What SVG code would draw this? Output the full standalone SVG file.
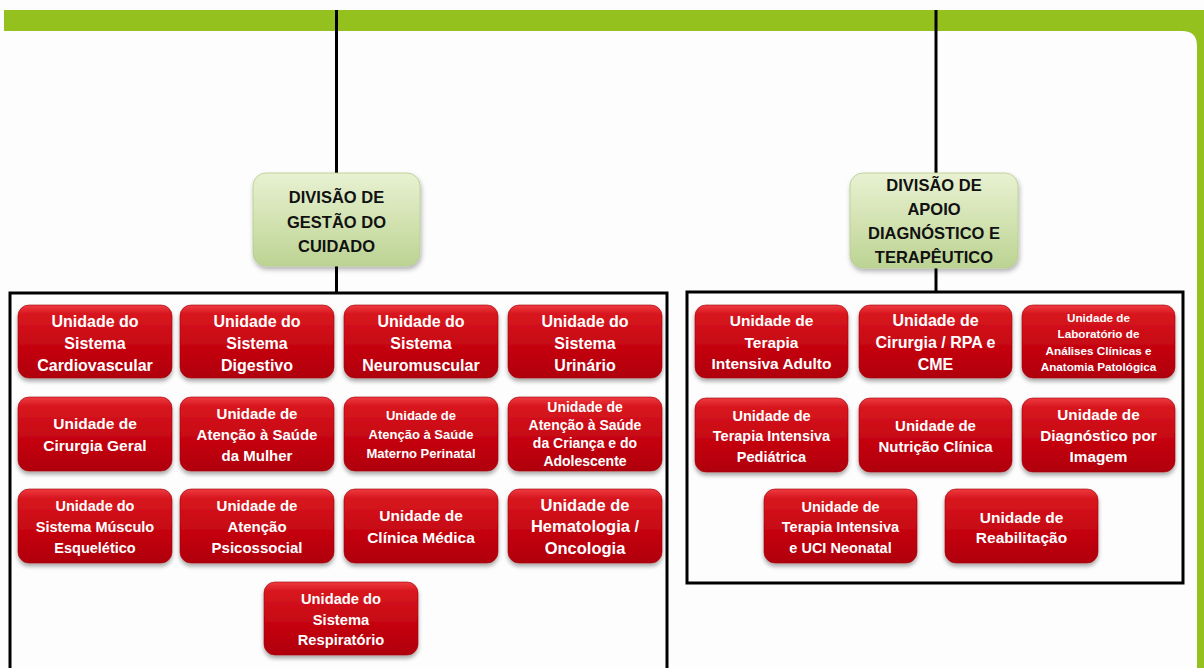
<svg xmlns="http://www.w3.org/2000/svg" width="1204" height="668" viewBox="0 0 1204 668">
<defs>
<linearGradient id="red" x1="0" y1="0" x2="0" y2="1">
<stop offset="0" stop-color="#EE3A40"/>
<stop offset="0.12" stop-color="#D81820"/>
<stop offset="0.6" stop-color="#C40410"/>
<stop offset="1" stop-color="#B00008"/>
</linearGradient>
<linearGradient id="green" x1="0" y1="0" x2="0" y2="1">
<stop offset="0" stop-color="#E8F1D2"/>
<stop offset="0.5" stop-color="#D3E3B2"/>
<stop offset="1" stop-color="#BCD393"/>
</linearGradient>
<filter id="sh" x="-10%" y="-10%" width="120%" height="130%">
<feDropShadow dx="0" dy="3" stdDeviation="2" flood-color="#000" flood-opacity="0.35"/>
</filter>
<filter id="gsh" x="-10%" y="-10%" width="120%" height="130%">
<feDropShadow dx="1" dy="3" stdDeviation="2.5" flood-color="#000" flood-opacity="0.3"/>
</filter>
</defs>
<style>
.u rect{fill:url(#red);filter:url(#sh);stroke:#A00008;stroke-width:0.6}
.u text{fill:#fff;font-family:"Liberation Sans",Arial,sans-serif;font-weight:bold;text-anchor:middle}
.d rect{fill:url(#green);filter:url(#gsh);stroke:#B5CB8C;stroke-width:0.8}
.d text{fill:#111;font-family:"Liberation Sans",Arial,sans-serif;font-weight:bold;font-size:16.5px;text-anchor:middle}
.frame{fill:none;stroke:#000;stroke-width:3}
.ln{stroke:#000;stroke-width:3;fill:none}
</style>
<rect width="1204" height="668" fill="#FDFDFD"/>
<path d="M4 10 H1204 V668 H1197 V46 Q1197 31 1182 31 H4 Z" fill="#95C11F"/>
<g id="connectors">
<line class="ln" x1="336.5" y1="10" x2="336.5" y2="173"/>
<line class="ln" x1="336.5" y1="266" x2="336.5" y2="293"/>
<line class="ln" x1="936" y1="10" x2="936" y2="173"/>
<line class="ln" x1="936" y1="268" x2="936" y2="292"/>
</g>
<rect class="frame" x="10" y="293" width="657" height="390"/>
<rect class="frame" x="687" y="292" width="496" height="291"/>

<g id="div-gestao" class="d">
<rect x="253" y="173" width="167" height="93" rx="13"/>
<text x="336.5" y="203">DIVISÃO DE</text>
<text x="336.5" y="227.5">GESTÃO DO</text>
<text x="336.5" y="252">CUIDADO</text>
</g>
<g id="div-apoio" class="d">
<rect x="850" y="173" width="168" height="95" rx="13"/>
<text x="934" y="191">DIVISÃO DE</text>
<text x="934" y="215">APOIO</text>
<text x="934" y="239">DIAGNÓSTICO E</text>
<text x="934" y="263">TERAPÊUTICO</text>
</g>

<g id="u-cardio" class="u">
<rect x="18" y="305" width="154" height="73" rx="11"/>
<text font-size="16"><tspan x="95" y="326.5">Unidade do</tspan><tspan x="95" y="348.5">Sistema</tspan><tspan x="95" y="370.5">Cardiovascular</tspan></text>
</g>
<g id="u-digestivo" class="u">
<rect x="180" y="305" width="154" height="73" rx="11"/>
<text font-size="16"><tspan x="257" y="326.5">Unidade do</tspan><tspan x="257" y="348.5">Sistema</tspan><tspan x="257" y="370.5">Digestivo</tspan></text>
</g>
<g id="u-neuro" class="u">
<rect x="344" y="305" width="154" height="73" rx="11"/>
<text font-size="16"><tspan x="421" y="326.5">Unidade do</tspan><tspan x="421" y="348.5">Sistema</tspan><tspan x="421" y="370.5">Neuromuscular</tspan></text>
</g>
<g id="u-urinario" class="u">
<rect x="508" y="305" width="154" height="73" rx="11"/>
<text font-size="16"><tspan x="585" y="326.5">Unidade do</tspan><tspan x="585" y="348.5">Sistema</tspan><tspan x="585" y="370.5">Urinário</tspan></text>
</g>

<g id="u-cirurgia" class="u">
<rect x="18" y="397" width="154" height="74" rx="11"/>
<text font-size="15.5"><tspan x="95" y="429">Unidade de</tspan><tspan x="95" y="451">Cirurgia Geral</tspan></text>
</g>
<g id="u-mulher" class="u">
<rect x="180" y="397" width="154" height="74" rx="11"/>
<text font-size="15"><tspan x="257" y="418.5">Unidade de</tspan><tspan x="257" y="439.5">Atenção à Saúde</tspan><tspan x="257" y="460.5">da Mulher</tspan></text>
</g>
<g id="u-materno" class="u">
<rect x="344" y="397" width="154" height="74" rx="11"/>
<text font-size="13"><tspan x="421" y="420">Unidade de</tspan><tspan x="421" y="439">Atenção à Saúde</tspan><tspan x="421" y="458">Materno Perinatal</tspan></text>
</g>
<g id="u-crianca" class="u">
<rect x="508" y="397" width="154" height="74" rx="11"/>
<text font-size="14"><tspan x="585" y="412">Unidade de</tspan><tspan x="585" y="430">Atenção à Saúde</tspan><tspan x="585" y="448">da Criança e do</tspan><tspan x="585" y="466">Adolescente</tspan></text>
</g>

<g id="u-musculo" class="u">
<rect x="18" y="489" width="154" height="74" rx="11"/>
<text font-size="14.5"><tspan x="95" y="510.5">Unidade do</tspan><tspan x="95" y="531.5">Sistema Músculo</tspan><tspan x="95" y="552.5">Esquelético</tspan></text>
</g>
<g id="u-psico" class="u">
<rect x="180" y="489" width="154" height="74" rx="11"/>
<text font-size="15"><tspan x="257" y="510.5">Unidade de</tspan><tspan x="257" y="531.5">Atenção</tspan><tspan x="257" y="552.5">Psicossocial</tspan></text>
</g>
<g id="u-clinica" class="u">
<rect x="344" y="489" width="154" height="74" rx="11"/>
<text font-size="15.5"><tspan x="421" y="521">Unidade de</tspan><tspan x="421" y="543">Clínica Médica</tspan></text>
</g>
<g id="u-hemato" class="u">
<rect x="508" y="489" width="154" height="74" rx="11"/>
<text font-size="16.5"><tspan x="585" y="510.5">Unidade de</tspan><tspan x="585" y="532">Hematologia /</tspan><tspan x="585" y="553.5">Oncologia</tspan></text>
</g>
<g id="u-resp" class="u">
<rect x="264" y="582" width="154" height="73" rx="11"/>
<text font-size="14.7"><tspan x="341" y="604">Unidade do</tspan><tspan x="341" y="624.5">Sistema</tspan><tspan x="341" y="645">Respiratório</tspan></text>
</g>

<g id="u-uti-adulto" class="u">
<rect x="695" y="305" width="153" height="73" rx="11"/>
<text font-size="15.5"><tspan x="771.5" y="326">Unidade de</tspan><tspan x="771.5" y="347.5">Terapia</tspan><tspan x="771.5" y="369">Intensiva Adulto</tspan></text>
</g>
<g id="u-rpa" class="u">
<rect x="859" y="305" width="153" height="73" rx="11"/>
<text font-size="16"><tspan x="935.5" y="326">Unidade de</tspan><tspan x="935.5" y="348">Cirurgia / RPA e</tspan><tspan x="935.5" y="370">CME</tspan></text>
</g>
<g id="u-lab" class="u">
<rect x="1022" y="305" width="153" height="73" rx="11"/>
<text font-size="11.7"><tspan x="1098.5" y="321.5">Unidade de</tspan><tspan x="1098.5" y="338">Laboratório de</tspan><tspan x="1098.5" y="354.5">Análises Clínicas e</tspan><tspan x="1098.5" y="371">Anatomia Patológica</tspan></text>
</g>

<g id="u-uti-ped" class="u">
<rect x="695" y="398" width="153" height="74" rx="11"/>
<text font-size="14.5"><tspan x="771.5" y="420.5">Unidade de</tspan><tspan x="771.5" y="441">Terapia Intensiva</tspan><tspan x="771.5" y="461.5">Pediátrica</tspan></text>
</g>
<g id="u-nutricao" class="u">
<rect x="859" y="398" width="153" height="74" rx="11"/>
<text font-size="15"><tspan x="935.5" y="430.5">Unidade de</tspan><tspan x="935.5" y="451.5">Nutrição Clínica</tspan></text>
</g>
<g id="u-imagem" class="u">
<rect x="1022" y="398" width="153" height="74" rx="11"/>
<text font-size="15.3"><tspan x="1098.5" y="419.5">Unidade de</tspan><tspan x="1098.5" y="440.5">Diagnóstico por</tspan><tspan x="1098.5" y="461.5">Imagem</tspan></text>
</g>

<g id="u-uci-neo" class="u">
<rect x="764" y="489" width="153" height="74" rx="11"/>
<text font-size="14.5"><tspan x="840.5" y="511.5">Unidade de</tspan><tspan x="840.5" y="532">Terapia Intensiva</tspan><tspan x="840.5" y="552.5">e UCI Neonatal</tspan></text>
</g>
<g id="u-reab" class="u">
<rect x="945" y="489" width="153" height="74" rx="11"/>
<text font-size="15.5"><tspan x="1021.5" y="522.5">Unidade de</tspan><tspan x="1021.5" y="543">Reabilitação</tspan></text>
</g>
</svg>
